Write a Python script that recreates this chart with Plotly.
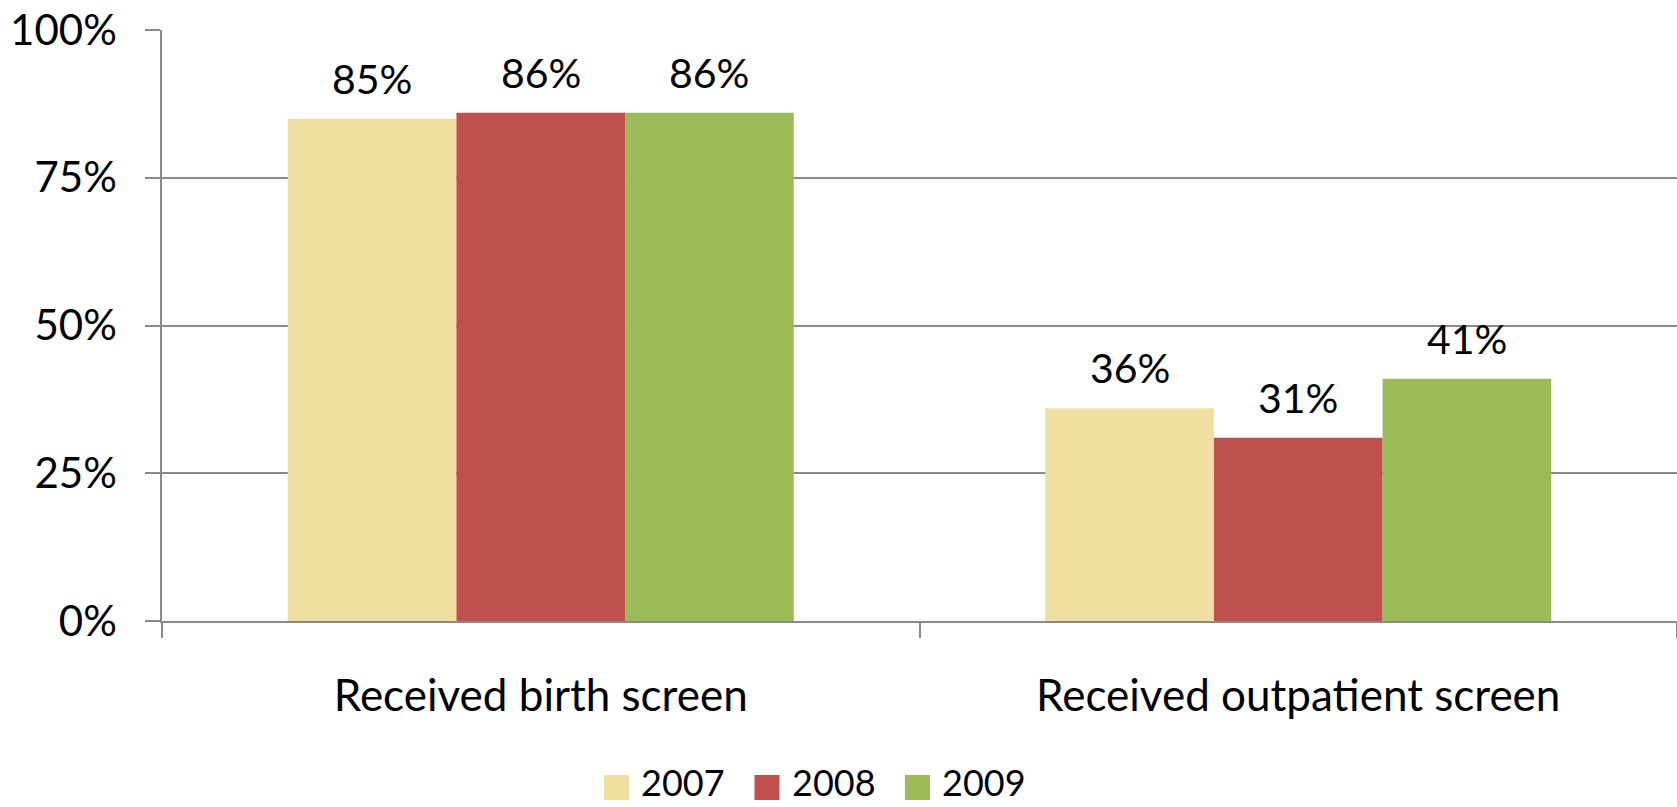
import plotly.graph_objects as go

categories = ["Received birth screen", "Received outpatient screen"]
years = ["2007", "2008", "2009"]
values_2007 = [0.85, 0.36]
values_2008 = [0.86, 0.31]
values_2009 = [0.86, 0.41]
colors = ["#EFE0A1", "#C0504D", "#9BBB59"]
y_ticks = [0, 0.25, 0.5, 0.75, 1.0]
y_tick_labels = ["0%", "25%", "50%", "75%", "100%"]

series = [values_2007, values_2008, values_2009]
FONT = "Lato"
W, H = 1677, 807
ML, MR, MT, MB = 162, 0, 30, 186
BARGAP = 0.332
plot_w = W - ML - MR
plot_h = H - MT - MB

fig = go.Figure()
for name, vals, col in zip(years, series, colors):
    fig.add_trace(go.Bar(x=categories, y=vals, name=name, marker_color=col,
                         marker_line_width=0, showlegend=False))

# data labels above each bar
cat_w = plot_w / len(categories)
bar_w = cat_w * (1 - BARGAP) / len(series)
for i, vals in enumerate(series):
    shift = (i - (len(series) - 1) / 2) * bar_w
    for c, v in zip(categories, vals):
        fig.add_annotation(x=c, y=v, xref="x", yref="y", text=f"{round(v*100)}%",
                           showarrow=False, yanchor="bottom", xshift=shift, yshift=14,
                           font=dict(family=FONT, size=41, color="black"))

# legend (large square swatches like the original)
def px_x(p):
    return (p - ML) / plot_w

def px_y(p):
    return (H - MB - p) / plot_h

leg_x0, leg_pitch, sw = 604, 150.5, 25
for i, (name, col) in enumerate(zip(years, colors)):
    x0 = leg_x0 + i * leg_pitch
    fig.add_shape(type="rect", xref="paper", yref="paper",
                  x0=px_x(x0), x1=px_x(x0 + sw), y0=px_y(800), y1=px_y(775),
                  fillcolor=col, line_width=0)
    fig.add_annotation(xref="paper", yref="paper", x=px_x(x0 + sw + 10), y=px_y(782),
                       xanchor="left", yanchor="middle", text=name, showarrow=False,
                       font=dict(family=FONT, size=36, color="black"))

fig.update_layout(
    width=W, height=H,
    margin=dict(l=ML, r=MR, t=MT, b=MB, autoexpand=False),
    barmode="group", bargap=BARGAP, bargroupgap=0,
    plot_bgcolor="white", paper_bgcolor="white",
    font=dict(family=FONT, size=40, color="black"),
    showlegend=False,
)
fig.update_yaxes(range=[0, 1], tickvals=y_ticks, ticktext=y_tick_labels,
                 showgrid=True, gridcolor="#8a8a8a", gridwidth=1.5,
                 showline=True, linecolor="#8a8a8a", linewidth=1.5,
                 ticks="outside", ticklen=15, tickcolor="#8a8a8a", tickwidth=1.5,
                 ticklabelstandoff=20, zeroline=False, automargin=False,
                 tickfont=dict(family=FONT, size=42))
fig.update_xaxes(showline=True, linecolor="#8a8a8a", linewidth=1.5,
                 ticks="outside", tickson="boundaries", ticklen=15,
                 tickcolor="#8a8a8a", tickwidth=1.5, ticklabelstandoff=35,
                 automargin=False,
                 tickfont=dict(family=FONT, size=44))

fig.write_html("out.html", config={"displayModeBar": False},
               post_script="document.body.style.margin='0';document.body.style.overflow='hidden';")
